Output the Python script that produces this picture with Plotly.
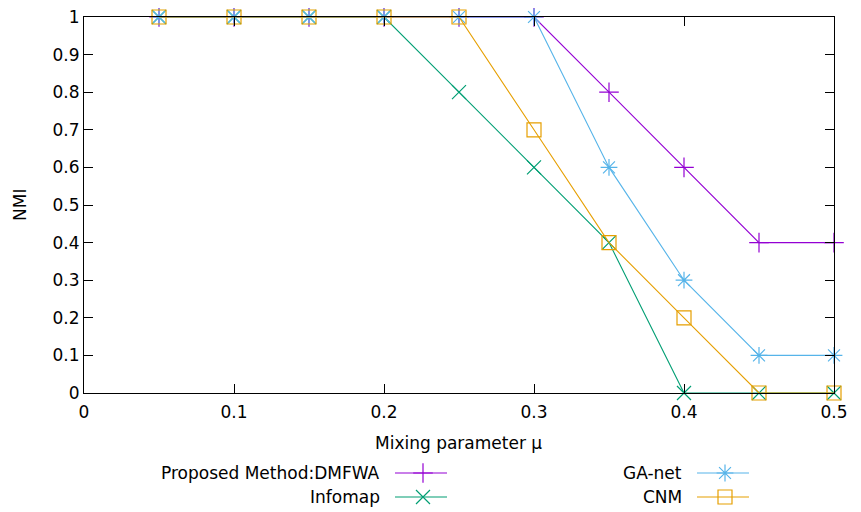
import plotly.graph_objects as go

mu = [0.05, 0.10, 0.15, 0.20, 0.25, 0.30, 0.35, 0.40, 0.45, 0.50]
dmfwa = [1, 1, 1, 1, 1, 1, 0.8, 0.6, 0.4, 0.4]
infomap = [1, 1, 1, 1, 0.8, 0.6, 0.4, 0.0, 0.0, 0.0]
ganet = [1, 1, 1, 1, 1, 1, 0.6, 0.3, 0.1, 0.1]
cnm = [1, 1, 1, 1, 1, 0.7, 0.4, 0.2, 0.0, 0.0]

series_names = ["Proposed Method:DMFWA", "Infomap", "GA-net", "CNM"]
series_vals = [dmfwa, infomap, ganet, cnm]
colors = ["#9400d3", "#009e73", "#56b4e9", "#e69f00"]
symbols = ["cross-thin-open", "x-thin-open", "asterisk-open", "square-open"]
x_ticks = [0, 0.1, 0.2, 0.3, 0.4, 0.5]
y_ticks = [0, 0.1, 0.2, 0.3, 0.4, 0.5, 0.6, 0.7, 0.8, 0.9, 1]

FONT = "DejaVu Sans"
FS = 17
OFF = 8  # browser body margin
PAGE_W, PAGE_H = 861, 512
W, H = PAGE_W - OFF, PAGE_H - OFF
PL, PR, PT, PB = 84, 834, 17, 393  # plot box in page pixels
ML, MT = PL - OFF, PT - OFF
MR = W - (PR - OFF)
MB = 5
PH = H - MT - MB
ydom0 = ((H - MB) - (PB - OFF)) / PH
LEG_DOM = 0.17
page_bottom = PAGE_H - MB  # page y of paper bottom

fig = go.Figure()
for name, vals, c, s in zip(series_names, series_vals, colors, symbols):
    fig.add_trace(go.Scatter(
        x=mu, y=vals, mode="lines+markers", name=name,
        line=dict(color=c, width=1.1),
        marker=dict(symbol=s, size=14, color=c, line=dict(color=c, width=1.2)),
        showlegend=False, cliponaxis=False,
    ))

# manual gnuplot-style legend on a hidden pixel axis (page pixel units)
leg_rows = [473, 497, 473, 497]
leg_text_right = [382, 382, 684, 684]
for name, c, s, ry, tr in zip(series_names, colors, symbols, leg_rows, leg_text_right):
    fig.add_trace(go.Scatter(
        x=[tr + 13, tr + 65], y=[ry, ry], mode="lines", xaxis="x2", yaxis="y2",
        line=dict(color=c, width=1.1), showlegend=False, hoverinfo="skip", cliponaxis=False))
    fig.add_trace(go.Scatter(
        x=[tr + 41], y=[ry], mode="markers", xaxis="x2", yaxis="y2",
        marker=dict(symbol=s, size=14, color=c, line=dict(color=c, width=1.2)),
        showlegend=False, hoverinfo="skip", cliponaxis=False))
    fig.add_annotation(x=tr, y=ry, xref="x2", yref="y2", text=name, showarrow=False,
                       xanchor="right", yanchor="middle",
                       font=dict(family=FONT, size=FS, color="black"))

axis_common = dict(showgrid=False, zeroline=False, showline=True, linecolor="black",
                   linewidth=1, mirror="ticks", ticks="inside", ticklen=9,
                   tickcolor="black", ticklabeloverflow="allow",
                   tickfont=dict(family=FONT, size=FS, color="black"))

fig.update_layout(
    width=W, height=H,
    margin=dict(l=ML, r=MR, t=MT, b=MB, autoexpand=False),
    paper_bgcolor="white", plot_bgcolor="white",
    xaxis=dict(range=[0, 0.5], tickvals=x_ticks, ticktext=[f"{v:g}" for v in x_ticks],
               domain=[0, 1], anchor="y", automargin=False, ticklabelstandoff=4,
               **axis_common),
    yaxis=dict(range=[0, 1], tickvals=y_ticks, ticktext=[f"{v:g}" for v in y_ticks],
               domain=[ydom0, 1], anchor="x", automargin=False, **axis_common),
    xaxis2=dict(range=[PL, PR], domain=[0, 1], anchor="y2", visible=False),
    yaxis2=dict(range=[page_bottom, page_bottom - LEG_DOM * PH], domain=[0, LEG_DOM],
                anchor="x2", visible=False),
    showlegend=False,
)
fig.add_annotation(x=458, y=443, xref="x2", yref="y2",
                   text="Mixing parameter μ", showarrow=False,
                   font=dict(family=FONT, size=FS, color="black"),
                   xanchor="center", yanchor="middle")
fig.add_annotation(x=(20 - PL) / (PR - PL), y=0.5, xref="paper", yref="y domain",
                   text="NMI", textangle=-90, showarrow=False,
                   font=dict(family=FONT, size=FS, color="black"),
                   xanchor="center", yanchor="middle")

fig.write_html("out.html")
